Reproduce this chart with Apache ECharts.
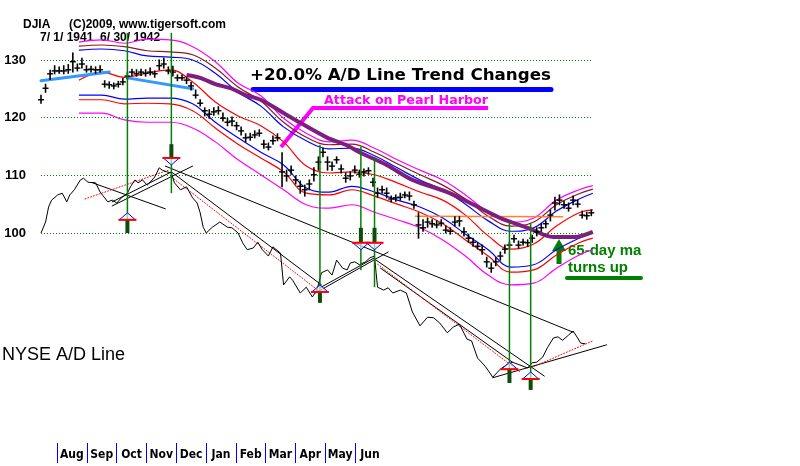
<!DOCTYPE html>
<html>
<head>
<meta charset="utf-8">
<script src="https://cdn.jsdelivr.net/npm/echarts@6/dist/echarts.min.js"></script>
<style>
  html, body { margin: 0; padding: 0; background: #fff; }
  #chart { width: 800px; height: 466px; }
</style>
</head>
<body>
<div id="chart"></div>
<script>
// x = calendar days from 7/1/1941, y = DJIA
const months = ['Aug', 'Sep', 'Oct', 'Nov', 'Dec', 'Jan', 'Feb', 'Mar', 'Apr', 'May', 'Jun'];
const yTickLabels = [100, 110, 120, 130];

const djiaDays = [0,3,6,9,12,15,18,21,24,27,30,33,36,39,42,45,48,51,54,57,60,63,66,69,72,75,78,81,84,87,90,93,96,99,102,105,108,111,114,117,120,123,126,129,132,135,138,141,144,147,150,153,156,159,162,165,168,171,174,177,180,183,186,189,192,195,198,201,204,207,210,213,216,219,222,225,228,231,234,237,240,243,246,249,252,255,258,261,264,267,270,273,276,279,282,285,288,291,294,297,300,303,306,309,312,315,318,321,324,327,330,333,336,339,342,345,348,351,354,357,360,363];
const djiaClose = [123.1,125.1,127.6,128.1,128.1,128.1,128.3,129.7,128.6,129.3,128.3,128.4,128.3,128.3,125.8,125.7,125.5,125.8,126.2,127.2,127.9,127.6,127.9,127.7,127.9,127.6,129.0,129.3,128.1,127.9,126.9,126.9,126.5,125.5,123.9,122.5,121.2,120.6,121.0,121.2,119.9,119.2,119.4,118.6,117.7,116.5,116.6,117.0,117.3,115.4,114.9,116.0,116.5,110.6,109.9,110.9,109.2,108.1,107.5,108.5,110.1,112.3,114.0,112.3,111.6,112.7,111.1,109.5,109.9,110.9,110.2,110.6,110.8,108.8,106.9,107.5,106.9,105.9,106.1,106.2,106.6,106.4,104.9,101.4,100.9,101.9,101.6,101.4,101.7,100.5,100.3,101.9,102.1,100.2,99.1,98.4,97.7,97.1,95.0,93.9,95.0,96.0,97.2,97.9,99.0,97.9,98.4,98.3,99.1,100.2,100.9,101.6,103.1,105.2,105.7,104.9,104.3,105.7,105.0,103.1,103.0,103.5];
const djiaHigh = [123.9,125.8,128.2,129.0,128.8,129.0,129.2,131.2,129.3,130.3,129.0,128.9,128.8,129.0,126.4,126.2,126.0,126.3,126.8,127.9,128.4,128.3,128.4,128.3,128.6,128.1,130.0,130.3,128.8,128.9,127.4,127.4,127.0,126.1,124.8,123.1,121.7,121.4,121.7,121.9,120.8,119.9,120.1,119.2,118.4,117.2,117.3,117.7,117.9,116.1,115.6,116.8,117.2,113.9,110.9,111.6,109.9,109.0,108.3,109.2,111.3,113.2,114.7,113.2,112.3,113.2,111.8,110.4,110.6,111.6,110.9,111.1,111.3,109.5,107.8,108.1,107.8,106.4,106.6,106.9,107.1,107.1,105.5,103.5,102.3,102.6,102.3,102.1,102.3,101.2,100.9,102.8,102.8,100.9,99.8,99.1,98.3,97.9,95.8,94.8,95.7,96.7,97.9,98.4,99.6,98.6,98.9,98.8,99.6,100.9,101.6,102.1,104.0,106.2,106.6,105.5,105.2,106.4,105.7,103.8,103.6,104.0];
const djiaLow = [122.5,124.4,126.6,127.6,127.7,127.6,127.7,127.9,128.1,128.6,127.9,127.9,127.7,127.9,125.3,125.1,125.0,125.3,125.7,126.7,127.3,127.2,127.3,127.2,127.4,127.0,128.3,128.6,127.6,127.2,126.4,126.5,125.9,124.8,123.4,122.0,120.3,119.9,120.4,120.6,119.4,118.6,118.6,117.9,117.0,115.8,116.1,116.5,116.8,114.7,114.4,115.4,116.0,108.0,109.0,110.2,108.5,106.9,106.4,107.5,109.0,110.9,113.2,110.9,110.9,112.1,110.4,108.8,109.2,110.4,109.7,109.9,110.2,108.1,106.2,106.9,106.1,105.4,105.5,105.7,106.1,105.7,104.3,99.1,100.3,101.0,101.0,100.9,101.2,100.0,99.8,101.2,101.2,99.5,98.4,97.7,97.2,96.3,94.1,93.2,94.3,95.3,96.5,97.4,98.4,97.4,97.9,97.7,98.4,99.5,100.3,100.9,102.1,104.0,104.9,104.3,103.8,104.9,104.5,102.6,102.4,103.0];

// bands around the short moving average
const bandDays = [25,40,55,70,85,100,115,130,145,160,175,190,205,220,235,250,265,280,295,310,325,340,355,364];
const bandMid = [126.5,127.9,127.0,127.7,128.3,126.2,122.7,120.3,118.6,115.8,111.6,110.4,110.6,110.1,108.7,107.1,105.7,103.1,99.5,97.2,98.1,101.2,103.5,104.0];
const bandUpperMagenta = [133.1,133.5,132.9,133.6,133.5,132.3,129.7,126.0,123.8,119.9,117.3,115.8,116.1,114.7,112.7,110.9,109.2,106.6,103.6,101.9,102.6,105.7,107.5,108.2];
const bandUpperBrown = [132.4,132.6,132.3,131.6,131.4,130.9,128.6,125.3,122.9,119.2,116.6,115.3,115.4,114.0,112.0,110.1,108.3,105.9,102.9,101.2,101.9,104.9,106.8,107.6];
const bandUpperBlue = [131.7,131.9,131.6,130.7,130.5,130.0,127.7,124.4,122.0,118.4,116.0,114.6,114.7,113.4,111.3,109.2,107.5,105.0,102.1,100.3,100.9,103.8,105.9,106.9];
const bandLowerBlue = [123.9,123.9,123.2,123.4,123.4,122.4,119.2,116.5,114.0,111.8,107.8,107.1,108.1,107.1,105.7,104.5,102.6,99.8,97.1,94.1,94.5,97.1,99.1,100.0];
const bandLowerRed = [123.1,123.1,122.4,122.5,122.4,121.2,118.2,115.4,113.0,110.6,106.9,106.6,107.5,106.4,105.0,103.6,101.6,98.8,96.0,93.2,93.6,96.2,98.3,99.1];
const bandLowerMagenta = [120.8,120.8,119.6,119.2,119.2,118.2,115.8,112.7,110.1,107.5,104.9,104.3,104.9,103.6,102.3,100.9,98.8,96.0,92.7,91.0,91.3,93.9,96.2,97.1];

// 65-day moving average
const ma65Days = [96,105,115,125,135,145,160,171,189,201,210,228,245,268,290,303,321,338,352,364];
const ma65Values = [127.4,126.9,125.8,125.1,123.9,123.1,120.8,119.1,116.5,115.3,114.0,111.8,109.2,107.1,104.3,102.6,100.9,99.3,99.3,100.2];

// NYSE A/D line, drawn in the same vertical units as the chart
const adDays = [0,3,5,7,11,14,17,19,22,26,28,31,36,39,42,44,47,50,53,57,59,62,64,67,70,72,75,78,80,83,86,88,92,96,100,103,105,107,109,113,118,123,126,130,133,136,140,143,146,150,153,158,160,164,166,171,175,179,182,185,189,192,195,199,202,204,207,210,214,217,220,221,222,226,229,232,237,241,245,250,255,259,263,268,272,276,281,284,288,293,298,303,307,311,316,321,324,327,331,334,338,341,344,348,351,354,356,359];
const adValues = [100.0,101.9,104.5,105.7,106.6,106.9,105.4,106.6,107.5,109.2,109.5,108.8,108.7,107.1,106.1,105.4,105.7,105.2,106.1,106.9,108.0,109.2,108.7,109.2,108.3,108.8,109.7,111.3,110.9,110.6,110.4,108.7,107.5,108.0,106.1,105.2,103.5,101.0,100.0,101.0,101.9,101.0,100.9,100.0,98.3,97.1,97.4,98.4,97.1,96.0,97.6,96.5,91.0,92.4,91.8,89.6,90.6,88.9,90.1,93.1,93.6,92.7,95.3,93.9,93.6,94.8,95.0,94.5,95.0,95.7,96.0,93.2,90.6,90.1,90.5,89.6,90.1,89.6,86.3,83.9,85.4,85.3,84.4,82.7,83.7,84.2,81.6,81.3,78.3,76.9,75.0,76.4,77.1,77.6,77.1,76.6,77.5,77.6,78.5,80.1,81.8,82.0,81.4,82.3,83.0,81.8,80.9,80.8];

// trendlines as [day1, value1, day2, value2]
const priceTrendlines = [[0,126.4,45,127.9],[57,126.9,100,125.0]];
const adTrendlines = [
  [34,108.7,82,104.2],[47,104.7,100,111.6],[47,105.4,86,110.6],
  [82,111.6,351,82.8],[86,110.6,185,91.0],[181,89.6,229,96.7],
  [184,90.5,220,95.7],[221,95.3,332,75.2],[224,93.9,311,77.6],
  [298,74.9,373,80.6]
];
const adMaTrendlines = [[29,105.9,84,110.9],[86,109.7,184,89.8],[222,94.6,316,75.9],[323,76.6,364,81.3]];
const orangeLine = [[247,102.9,344,102.8]];

// trend-change signals
const sigDays = [57, 86, 184, 211, 220, 309, 323];
const sigTop = [134.7, 134.7, 115.3, 114.9, 113.2, 101.9, 101.7];
const sigBottom = [100.0, 106.9, 87.9, 93.6, 90.6, 74.0, 72.8];
const sigArrowFrom = [100.0, 115.4, 87.9, 100.9, 100.9, 74.0, 72.8];
const sigArrowTip = [103.5, 111.8, 91.0, 97.1, 97.1, 77.6, 75.9];

const chart = echarts.init(document.getElementById('chart'));

function bandSeries(values, color) {
  return {
    type: 'line',
    data: bandDays.map((d, i) => [d, values[i]]),
    smooth: 0.4,
    showSymbol: false,
    lineStyle: { color: color, width: 1.2 },
    z: 2,
    silent: true
  };
}

function segmentSeries(segs, color, width, dash, z) {
  return {
    type: 'custom',
    data: segs,
    encode: { x: [0, 2], y: [1, 3] },
    renderItem: (params, api) => {
      const a = api.coord([api.value(0), api.value(1)]);
      const b = api.coord([api.value(2), api.value(3)]);
      return {
        type: 'line',
        shape: { x1: a[0], y1: a[1], x2: b[0], y2: b[1] },
        style: { stroke: color, lineWidth: width, lineDash: dash, lineCap: 'round' }
      };
    },
    z: z,
    silent: true
  };
}

const option = {
  animation: false,
  backgroundColor: '#fff',
  textStyle: { fontFamily: 'Liberation Sans, Arial, sans-serif' },
  grid: [
    { left: 41, top: 2.3, width: 606.4, height: 461.4 },
    { left: 57, top: 443, width: 327.8, height: 20 }
  ],
  xAxis: [
    { type: 'value', min: 0, max: 400, show: false, gridIndex: 0 },
    {
      type: 'category',
      gridIndex: 1,
      data: months,
      axisLine: { show: false },
      axisTick: { show: false },
      splitLine: { show: true, interval: 0, showMaxLine: false, lineStyle: { color: '#0000ff', width: 1 } },
      axisLabel: {
        inside: true,
        interval: 0,
        hideOverlap: false,
        margin: 2,
        color: '#000',
        fontSize: 12,
        fontWeight: 'bold',
        fontFamily: 'Liberation Sans Narrow, DejaVu Sans Condensed, sans-serif'
      }
    }
  ],
  yAxis: [
    {
      type: 'value',
      min: 60,
      max: 140,
      interval: 10,
      gridIndex: 0,
      axisLine: { show: false },
      axisTick: { show: false },
      splitLine: { show: false },
      axisLabel: {
        margin: 15,
        color: '#000',
        fontSize: 13,
        fontWeight: 'bold',
        formatter: v => (yTickLabels.includes(v) ? String(v) : '')
      }
    },
    { type: 'value', gridIndex: 1, show: false }
  ],
  series: [
    {
      type: 'line',
      data: [],
      markLine: {
        silent: true,
        symbol: 'none',
        label: { show: false },
        lineStyle: { color: '#008000', type: [1, 2], width: 1 },
        data: yTickLabels.map(v => [{ coord: [0, v] }, { coord: [364, v] }])
      },
      z: 1
    },
    bandSeries(bandUpperMagenta, '#ff00ff'),
    bandSeries(bandUpperBrown, '#8b1a1a'),
    bandSeries(bandUpperBlue, '#0000ff'),
    bandSeries(bandMid, '#ff0000'),
    bandSeries(bandLowerBlue, '#0000ff'),
    bandSeries(bandLowerRed, '#ff0000'),
    bandSeries(bandLowerMagenta, '#ff00ff'),
    segmentSeries(orangeLine, '#ff8030', 1.5, null, 3),
    {
      type: 'line',
      data: ma65Days.map((d, i) => [d, ma65Values[i]]),
      smooth: 0.3,
      showSymbol: false,
      lineStyle: { color: '#7e1f80', width: 4 },
      z: 3,
      silent: true
    },
    segmentSeries(priceTrendlines, '#3399ff', 3, null, 4),
    {
      type: 'custom',
      data: djiaDays.map((d, i) => [d, djiaHigh[i], djiaLow[i], djiaClose[i]]),
      encode: { x: 0, y: [1, 2, 3] },
      renderItem: (params, api) => {
        const hi = api.coord([api.value(0), api.value(1)]);
        const lo = api.coord([api.value(0), api.value(2)]);
        const cl = api.coord([api.value(0), api.value(3)]);
        return {
          type: 'group',
          children: [
            { type: 'line', shape: { x1: hi[0], y1: hi[1] - 0.5, x2: lo[0], y2: lo[1] + 0.5 }, style: { stroke: '#000', lineWidth: 1.6 } },
            { type: 'line', shape: { x1: cl[0] - 3, y1: cl[1], x2: cl[0] + 3, y2: cl[1] }, style: { stroke: '#000', lineWidth: 1.4 } }
          ]
        };
      },
      z: 5,
      silent: true
    },
    {
      type: 'line',
      data: adDays.map((d, i) => [d, adValues[i]]),
      showSymbol: false,
      lineStyle: { color: '#000', width: 1 },
      z: 5,
      silent: true
    },
    segmentSeries(adTrendlines, '#000', 1, null, 5),
    segmentSeries(adMaTrendlines, '#ff0000', 1, [1, 2], 5),
    {
      type: 'custom',
      data: sigDays.map((d, i) => [d, sigTop[i], sigBottom[i], sigArrowFrom[i], sigArrowTip[i]]),
      encode: { x: 0, y: [1, 2] },
      renderItem: (params, api) => {
        const day = api.value(0);
        const top = api.coord([day, api.value(1)]);
        const bot = api.coord([day, api.value(2)]);
        const from = api.coord([day, api.value(3)]);
        const tip = api.coord([day, api.value(4)]);
        const x = top[0];
        const s = Math.sign(tip[1] - from[1]);
        const baseY = tip[1] - s * 7;
        return {
          type: 'group',
          children: [
            { type: 'line', shape: { x1: x, y1: top[1], x2: x, y2: bot[1] }, style: { stroke: '#008000', lineWidth: 1.5 } },
            { type: 'line', shape: { x1: x, y1: from[1], x2: x, y2: baseY }, style: { stroke: '#0b4d0b', lineWidth: 4 } },
            { type: 'polygon', shape: { points: [[x - 8, baseY], [x + 8, baseY], [x, tip[1]]] }, style: { fill: 'rgba(255,255,255,0.6)', stroke: '#0000ff', lineWidth: 1 } },
            { type: 'line', shape: { x1: x - 9, y1: baseY, x2: x + 9, y2: baseY }, style: { stroke: '#ff0000', lineWidth: 2 } }
          ]
        };
      },
      z: 6,
      silent: true
    }
  ],
  graphic: [
    { type: 'text', x: 23, y: 25, style: { text: 'DJIA', font: 'bold 12px Liberation Sans, Arial, sans-serif', fill: '#000', verticalAlign: 'middle' } },
    { type: 'text', x: 69, y: 25, style: { text: '(C)2009, www.tigersoft.com', font: 'bold 12px Liberation Sans, Arial, sans-serif', fill: '#000', verticalAlign: 'middle' } },
    { type: 'text', x: 40, y: 38, style: { text: '7/ 1/ 1941  6/ 30/ 1942', font: 'bold 12px Liberation Sans, Arial, sans-serif', fill: '#000', verticalAlign: 'middle' } },
    { type: 'text', x: 250, y: 76, style: { text: '+20.0% A/D Line Trend Changes', font: 'bold 16.7px DejaVu Sans, sans-serif', fill: '#000', verticalAlign: 'middle' } },
    { type: 'line', shape: { x1: 253, y1: 89.5, x2: 551, y2: 89.5 }, style: { stroke: '#0000ff', lineWidth: 5, lineCap: 'round' } },
    { type: 'text', x: 324, y: 101, style: { text: 'Attack on Pearl Harbor', font: 'bold 12.7px DejaVu Sans, sans-serif', fill: '#ff00ff', verticalAlign: 'middle' } },
    { type: 'polyline', shape: { points: [[488, 108], [313, 108], [281, 147]] }, style: { stroke: '#ff00ff', lineWidth: 4, fill: null } },
    { type: 'text', x: 568, y: 251, style: { text: '65-day ma', font: 'bold 15px Liberation Sans, Arial, sans-serif', fill: '#008000', verticalAlign: 'middle' } },
    { type: 'text', x: 568, y: 268, style: { text: 'turns up', font: 'bold 15px Liberation Sans, Arial, sans-serif', fill: '#008000', verticalAlign: 'middle' } },
    { type: 'line', shape: { x1: 567, y1: 278, x2: 641, y2: 278 }, style: { stroke: '#008000', lineWidth: 4, lineCap: 'round' } },
    { type: 'polygon', shape: { points: [[552, 251], [559, 239], [566, 251]] }, style: { fill: '#008000' } },
    { type: 'rect', shape: { x: 556.5, y: 249, width: 5, height: 15 }, style: { fill: '#008000' } },
    { type: 'text', x: 2, y: 355, style: { text: 'NYSE A/D Line', font: '18px Liberation Sans, Arial, sans-serif', fill: '#000', verticalAlign: 'middle' } }
  ]
};

chart.setOption(option);
</script>
</body>
</html>
